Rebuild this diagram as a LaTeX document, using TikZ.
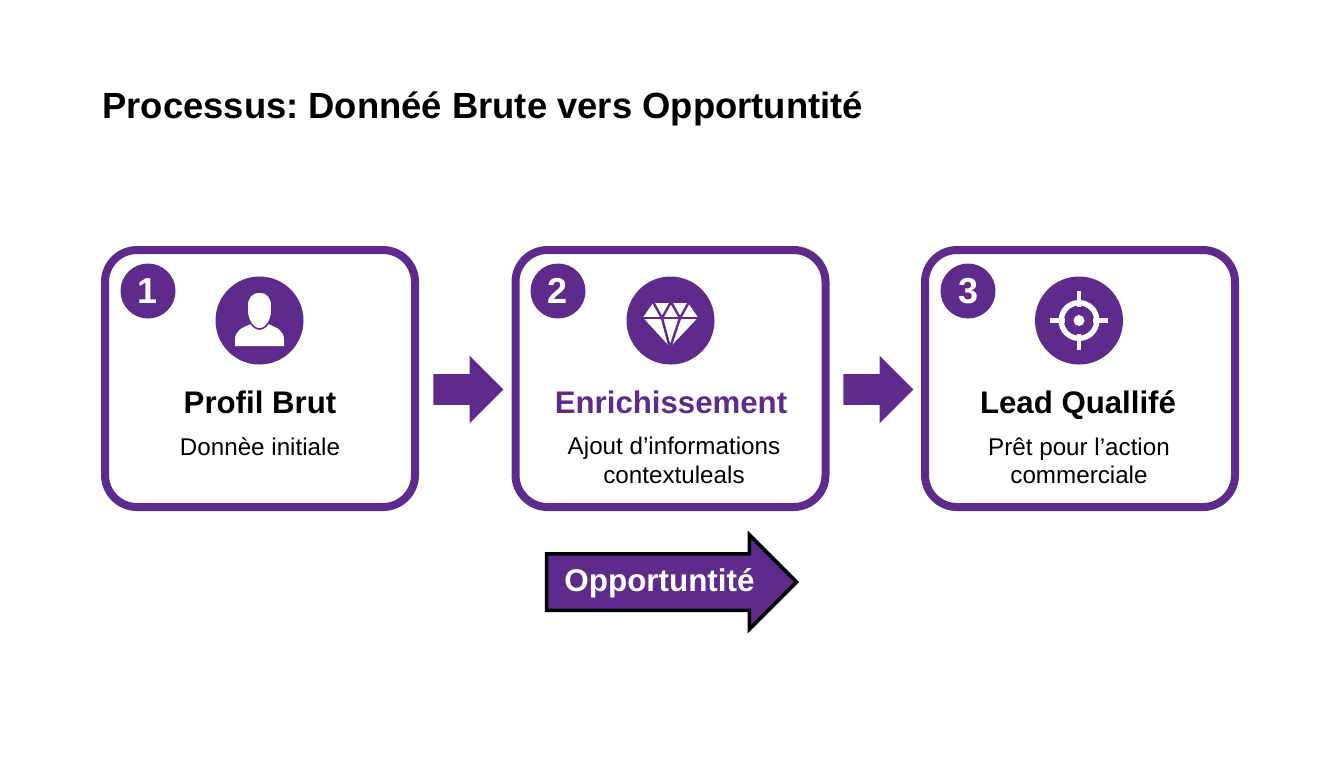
\documentclass[tikz,border=0pt]{standalone}
\usepackage{fontspec}
\setmainfont{Liberation Sans}
\usetikzlibrary{calc,shapes.arrows}
\definecolor{violet}{HTML}{5E2B8C}
\frenchspacing
\tikzset{
  bloc/.style={draw=violet,line width=4pt,rounded corners=16pt,minimum width=155pt,minimum height=128.5pt,fill=white},
  badge/.style={circle,fill=violet,text=white,minimum size=27.5pt,inner sep=0pt,font=\fontsize{18}{18}\selectfont\bfseries},
  icone/.style={circle,fill=violet,minimum size=44pt,inner sep=0pt},
  titrebloc/.style={anchor=base,inner sep=0pt,font=\fontsize{15.6}{18}\selectfont\bfseries},
  soustitre/.style={anchor=north,align=center,inner sep=0pt,font=\fontsize{12.1}{14.4}\selectfont},
  fleche/.style={single arrow,fill=violet,minimum height=35pt,inner xsep=0pt,inner ysep=7.5pt,single arrow head extend=9.25pt},
  trait/.style={draw=violet,line width=1.2pt}
}
\begin{document}
\begin{tikzpicture}[x=0.5pt,y=-0.5pt]
  \useasboundingbox (0,0) rectangle (1344,768);

  \node[anchor=base west,inner sep=0pt,font=\fontsize{18.2}{22}\selectfont\bfseries] (titre) at (102,118) {Processus: Donnéé Brute vers Opportuntité};

  % the three boxes with number and round icon
  \foreach \Node/\x/\xicon/\xbadge in {1/260/259.5/148,2/670.5/670.5/558,3/1080/1079/968} {%
    \node[bloc] (box\Node) at (\x,378.5) {};
    \node[badge] (badge\Node) at (\xbadge,291) {\Node};
    \node[icone] (icone\Node) at (\xicon,320.5) {};
  }

  % arrows between the boxes
  \node[fleche,xshift=-2.25pt,yshift=-5.5pt] (fleche1) at ($(box1.east)!.5!(box2.west)$) {};
  \node[fleche,xshift=-2.25pt,yshift=-5.5pt] (fleche2) at ($(box2.east)!.5!(box3.west)$) {};

  % texts
  \node[titrebloc] (titre1) at (260,413) {Profil Brut};
  \node[titrebloc,text=violet] (titre2) at (671,413) {Enrichissement};
  \node[titrebloc] (titre3) at (1078,413) {Lead Quallifé};
  \node[soustitre] (sous1) at (260,437) {Donnèe initiale};
  \node[soustitre] (sous2) at (674,437) {Ajout d’informations\\contextuleals};
  \node[soustitre] (sous3) at (1079,437) {Prêt pour l’action\\commerciale};

  % person
  \fill[white] (235,346) -- (235,340) .. controls (235,331) and (241,328) .. (251,324)
    -- (268,324) .. controls (278,328) and (284,331) .. (284,340) -- (284,346) -- cycle;
  \path[fill=white,draw=violet,line width=.8pt] (259.5,292) .. controls (268,292) and (272,298) .. (272,306)
    .. controls (273,320) and (266,329) .. (259.5,329)
    .. controls (253,329) and (246,320) .. (247,306)
    .. controls (247,298) and (251,292) .. (259.5,292) -- cycle;

  % diamond
  \fill[white] (653,303) -- (688,303) -- (698,317.5) -- (670,347) -- (643,317.5) -- cycle;
  \draw[trait] (643,318) -- (698,318);
  \draw[trait] (653,302) -- (662,318) -- (671,302) -- (680,318) -- (689,302);
  \draw[trait] (662,318) -- (670,348) -- (680,318);

  % target
  \draw[white,line width=2.7pt] (icone3.center) circle (8.9pt);
  \fill[white] (icone3.center) circle (2.75pt);
  \draw[white,line width=2.4pt] (1050,320.5) -- (1065,320.5) (1093,320.5) -- (1108,320.5)
    (1079,291) -- (1079,307) (1079,334) -- (1079,350);

  % big arrow
  \node[single arrow,draw=black,fill=violet,line width=1.75pt,minimum height=125pt,inner xsep=0pt,inner ysep=13.25pt,single arrow head extend=9.5pt] (opport) at (657.5,582) {};
  \node[inner sep=0pt,text=white,font=\fontsize{15.7}{18}\selectfont\bfseries] (opporttxt) at (659.5,583) {Opportuntité};
\end{tikzpicture}
\end{document}
